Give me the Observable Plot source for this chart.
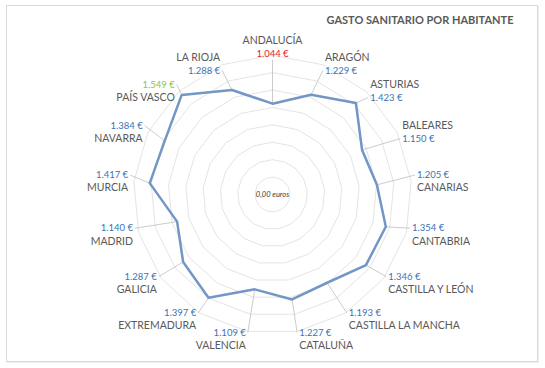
<!DOCTYPE html>
<html>
<head>
<meta charset="utf-8">
<script src="https://cdn.jsdelivr.net/npm/d3@7"></script>
<script src="https://cdn.jsdelivr.net/npm/@observablehq/plot@0.6"></script>
<style>
  html, body { margin: 0; padding: 0; background: #fff; }
  #wrap { position: relative; width: 545px; height: 368px; overflow: hidden; font-family: Lato, "Open Sans", sans-serif; }
  #frame { position: absolute; left: 6px; top: 5px; width: 530px; height: 355px; border: 1px solid #D9D9D9; box-shadow: 1px 1px 1px rgba(0,0,0,0.06); }
  #title { position: absolute; left: 300px; width: 240px; top: 13px; text-align: center; font-weight: bold; font-size: 11px; color: #595959; }
  #chart { position: absolute; left: 0; top: 0; }
</style>
</head>
<body>
<div id="wrap">
  <div id="frame"></div>
  <div id="chart"></div>
  <div id="title"></div>
</div>
<script>
const title = "GASTO SANITARIO POR HABITANTE";
const categories = ["ANDALUCÍA","ARAGÓN","ASTURIAS","BALEARES","CANARIAS","CANTABRIA","CASTILLA Y LEÓN","CASTILLA LA MANCHA","CATALUÑA","VALENCIA","EXTREMADURA","GALICIA","MADRID","MURCIA","NAVARRA","PAÍS VASCO","LA RIOJA"];
const values = [1044,1229,1423,1150,1205,1354,1346,1193,1227,1109,1397,1287,1140,1417,1384,1549,1288];
const gridLevels = [200,400,600,800,1000,1200,1400,1600];
const centerLabel = "0,00 euros";

document.getElementById("title").textContent = title;

const locale = d3.formatLocale({decimal: ",", thousands: ".", grouping: [3], currency: ["", " €"]});
const fmt = locale.format("$,.0f");

const n = categories.length;
const k = 0.087; // px per euro
const W = 545, H = 368, cx = 272, cy = 194;
const ang = i => i * 2 * Math.PI / n;
const px = p => p / k; // px -> data units

const ring = [];
gridLevels.forEach(L => {
  for (let i = 0; i <= n; i++) {
    const a = ang(i % n);
    ring.push({level: L, x: L * Math.sin(a), y: L * Math.cos(a)});
  }
});

const poly = [];
for (let i = 0; i <= n; i++) {
  const j = i % n, a = ang(j);
  poly.push({x: values[j] * Math.sin(a), y: values[j] * Math.cos(a)});
}

const vmin = d3.min(values), vmax = d3.max(values);
const labels = categories.map((name, i) => {
  const a = ang(i), s = Math.sin(a), c = Math.cos(a);
  const anchor = Math.abs(s) < 0.1 ? "middle" : (s > 0 ? "start" : "end");
  const ry = anchor === "middle" ? 147 : (c > 0 ? 140 : 147);
  const lx = px(145 * s), ly = px(ry * c);
  const nameFirst = c > 0.4 && s >= -0.4;
  const off = px(6.5);
  const ny = nameFirst ? ly + off : ly - off;
  const vy = nameFirst ? ly - off : ly + off;
  let ex = lx, ey = vy;
  if (anchor === "start") ex = lx - px(2);
  else if (anchor === "end") ex = lx + px(2);
  else ey = vy - px(6);
  const v = values[i];
  return {
    name, v, anchor, lx, ny, vy,
    x1: v * s, y1: v * c, x2: ex, y2: ey,
    text: fmt(v),
    color: v === vmin ? "#E8242C" : v === vmax ? "#8DC540" : "#3A74B4"
  };
});

const textMarks = [];
["start", "middle", "end"].forEach(an => {
  const sub = labels.filter(d => d.anchor === an);
  textMarks.push(Plot.text(sub, {x: "lx", y: "ny", text: "name", textAnchor: an, lineAnchor: "middle", fill: "#595959", fontSize: 10.5}));
  textMarks.push(Plot.text(sub, {x: "lx", y: "vy", text: "text", textAnchor: an, lineAnchor: "middle", fill: "color", fontSize: 9.5}));
});

const chart = Plot.plot({
  width: W, height: H, margin: 0,
  style: {fontFamily: "Lato, 'Open Sans', sans-serif", background: "transparent"},
  x: {domain: [-cx / k, (W - cx) / k], axis: null},
  y: {domain: [-(H - cy) / k, cy / k], axis: null},
  marks: [
    Plot.line(ring, {x: "x", y: "y", z: "level", stroke: "#E4E4E4", strokeWidth: 1}),
    Plot.link(labels, {x1: "x1", y1: "y1", x2: "x2", y2: "y2", stroke: "#BFBFBF", strokeWidth: 0.8}),
    Plot.line(poly, {x: "x", y: "y", stroke: "#7296C6", strokeWidth: 2.5, strokeLinejoin: "round"}),
    Plot.text([centerLabel], {x: () => 0, y: () => 0, text: d => d, fontSize: 7.5, fontStyle: "italic", fill: "#404040", lineAnchor: "middle"}),
    ...textMarks
  ]
});
document.getElementById("chart").appendChild(chart);
</script>
</body>
</html>
